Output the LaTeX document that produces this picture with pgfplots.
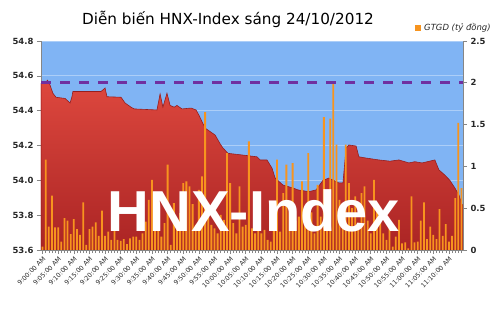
\documentclass[border=0pt]{standalone}
\usepackage{fontspec}
\setmainfont{DejaVu Sans}
\newfontfamily\wmfont{Liberation Sans}
\usepackage{pgfplots}
\pgfplotsset{compat=1.18}
\definecolor{sky}{RGB}{128,180,244}
\definecolor{gridc}{RGB}{172,206,248}
\definecolor{areatop}{RGB}{222,72,62}
\definecolor{areabot}{RGB}{170,36,36}
\definecolor{areaedge}{RGB}{150,30,30}
\definecolor{barc}{RGB}{247,148,30}
\definecolor{dashc}{RGB}{112,48,160}
\definecolor{axc}{RGB}{134,134,134}
\definecolor{txt}{RGB}{40,40,40}
\begin{document}
\begin{tikzpicture}
\useasboundingbox (0,0) rectangle (500bp,313bp);
\begin{axis}[at={(41bp,63bp)}, anchor=south west, scale only axis,
  width=422bp, height=209bp,
  xmin=-0.5, xmax=134.5, ymin=53.6, ymax=54.8,
  axis x line*=bottom, axis y line*=left,
  axis background/.style={fill=sky},
  /pgf/number format/assume math mode=true,
  ytick={53.6,53.8,54.0,54.2,54.4,54.6,54.8},
  /pgf/number format/fixed, /pgf/number format/fixed zerofill, /pgf/number format/precision=1,
  ymajorgrids, grid style={gridc, line width=0.8bp},
  xtick={0,5,...,130},
  xticklabels={9:00:00 AM,9:05:00 AM,9:10:00 AM,9:15:00 AM,9:20:00 AM,9:25:00 AM,9:30:00 AM,9:35:00 AM,9:40:00 AM,9:45:00 AM,9:50:00 AM,9:55:00 AM,10:00:00 AM,10:05:00 AM,10:10:00 AM,10:15:00 AM,10:20:00 AM,10:25:00 AM,10:30:00 AM,10:35:00 AM,10:40:00 AM,10:45:00 AM,10:50:00 AM,10:55:00 AM,11:00:00 AM,11:05:00 AM,11:10:00 AM},
  minor xtick={0,1,...,134},
  tick align=outside, major tick length=4bp, minor tick length=3bp,
  tick style={axc, line width=0.6bp},
  axis line style={axc, line width=0.8bp},
  x tick label style={rotate=45, anchor=north east, font=\fontsize{6.4}{7}\selectfont, text=txt, inner sep=1.5bp},
  y tick label style={font=\bfseries\fontsize{8.5}{10}\selectfont, text=txt},
]
\addplot[draw=areaedge, line width=0.6bp, top color=areatop, bottom color=areabot] coordinates {
(-0.5,54.557) (0,54.56) (1.1,54.566) (1.6,54.575) (2.4,54.547) (3.3,54.50) (4.3,54.477) (7.2,54.47) (8.8,54.444) (9.4,54.48) (9.7,54.51) (18.7,54.51) (20,54.53) (20.6,54.48) (25.1,54.477) (26.4,54.444) (28.3,54.42) (29.3,54.41) (36.6,54.404) (37.6,54.496) (38.5,54.42) (39.8,54.50) (40.8,54.43) (42.1,54.42) (43,54.43) (44.6,54.41) (47.5,54.415) (49.1,54.404) (50,54.375) (51,54.337) (52,54.30) (53.6,54.28) (55.2,54.26) (56.8,54.21) (57.7,54.186) (59.3,54.155) (64.1,54.145) (68.6,54.135) (69.6,54.117) (71.8,54.117) (73.4,54.07) (74.4,54.013) (76.9,53.973) (80.1,53.956) (81.7,53.945) (85.2,53.935) (87.5,53.945) (89.7,54.0) (91.6,54.013) (94.8,53.985) (96.1,53.985) (97.1,54.186) (98,54.203) (100.3,54.197) (101.2,54.135) (103.5,54.128) (107.6,54.117) (111.1,54.11) (114,54.117) (117.2,54.1) (119.1,54.107) (121.4,54.1) (125.5,54.117) (126.8,54.06) (128.7,54.03) (130.3,54.0) (131.9,53.956) (133.2,53.916) (134.2,53.86) (134.5,53.86)
} \closedcycle;
\end{axis}
\begin{axis}[at={(41bp,63bp)}, anchor=south west, scale only axis,
  width=422bp, height=209bp,
  xmin=-0.5, xmax=134.5, ymin=0, ymax=2.5,
  axis x line=none, axis y line*=right,
  /pgf/number format/assume math mode=true,
  ytick={0,0.5,1,1.5,2,2.5}, yticklabels={0,0.5,1,1.5,2,2.5},
  tick align=outside, major tick length=4bp,
  tick style={axc, line width=0.6bp},
  axis line style={axc, line width=0.8bp},
  y tick label style={font=\bfseries\fontsize{8.5}{10}\selectfont, text=txt},
]
\addplot[ybar, bar width=1.8bp, fill=barc, draw=none] coordinates {
(0,0.04) (1,1.08) (2,0.28) (3,0.65) (4,0.27) (5,0.27) (6,0.10) (7,0.38) (8,0.35) (9,0.19)
(10,0.37) (11,0.25) (12,0.18) (13,0.57) (14,0.06) (15,0.25) (16,0.28) (17,0.33) (18,0.17) (19,0.47)
(20,0.17) (21,0.22) (22,0.12) (23,0.25) (24,0.12) (25,0.11) (26,0.13) (27,0.07) (28,0.14) (29,0.16)
(30,0.16) (31,0.12) (32,0.20) (33,0.34) (34,0.60) (35,0.84) (36,0.32) (37,0.32) (38,0.16) (39,0.32)
(40,1.02) (41,0.06) (42,0.56) (43,0.30) (44,0.44) (45,0.80) (46,0.82) (47,0.76) (48,0.55) (49,0.30)
(50,0.72) (51,0.88) (52,1.65) (53,0.40) (54,0.30) (55,0.26) (56,0.20) (57,0.42) (58,0.36) (59,1.16)
(60,0.80) (61,0.32) (62,0.20) (63,0.76) (64,0.28) (65,0.30) (66,1.30) (67,0.26) (68,0.20) (69,0.24)
(70,0.20) (71,0.24) (72,0.12) (73,0.10) (74,0.24) (75,1.08) (76,0.22) (77,0.68) (78,1.02) (79,0.45)
(80,1.04) (81,0.35) (82,0.40) (83,0.82) (84,0.35) (85,1.16) (86,0.45) (87,0.20) (88,0.78) (89,0.40)
(90,1.59) (91,0.45) (92,1.57) (93,1.99) (94,1.26) (95,0.60) (96,0.40) (97,1.26) (98,0.80) (99,0.50)
(100,0.64) (101,0.30) (102,0.68) (103,0.76) (104,0.35) (105,0.20) (106,0.84) (107,0.50) (108,0.35) (109,0.20)
(110,0.12) (111,0.26) (112,0.04) (113,0.16) (114,0.36) (115,0.08) (116,0.09) (117,0.02) (118,0.64) (119,0.09)
(120,0.10) (121,0.35) (122,0.57) (123,0.13) (124,0.28) (125,0.18) (126,0.13) (127,0.49) (128,0.17) (129,0.31)
(130,0.10) (131,0.17) (132,0.62) (133,1.52) (134,0.74)
};
\addplot[dashc, line width=3bp, dash pattern=on 10bp off 9bp] coordinates {(-0.5,2) (134.5,2)};
\end{axis}
\node[anchor=base, font=\wmfont\bfseries\fontsize{58}{58}\selectfont, text=white, inner sep=0pt] at (254bp,81bp) {HNX-Index};
\node[font=\fontsize{15.3}{18}\selectfont, text=black, inner sep=0pt] at (228bp,294bp) {Diễn biến HNX-Index sáng 24/10/2012};
\fill[barc] (415bp,282bp) rectangle (421bp,288bp);
\node[anchor=west, font=\itshape\fontsize{8.5}{10}\selectfont, text=txt, inner sep=0pt] at (424bp,285bp) {GTGD (tỷ đồng)};
\end{tikzpicture}
\end{document}
